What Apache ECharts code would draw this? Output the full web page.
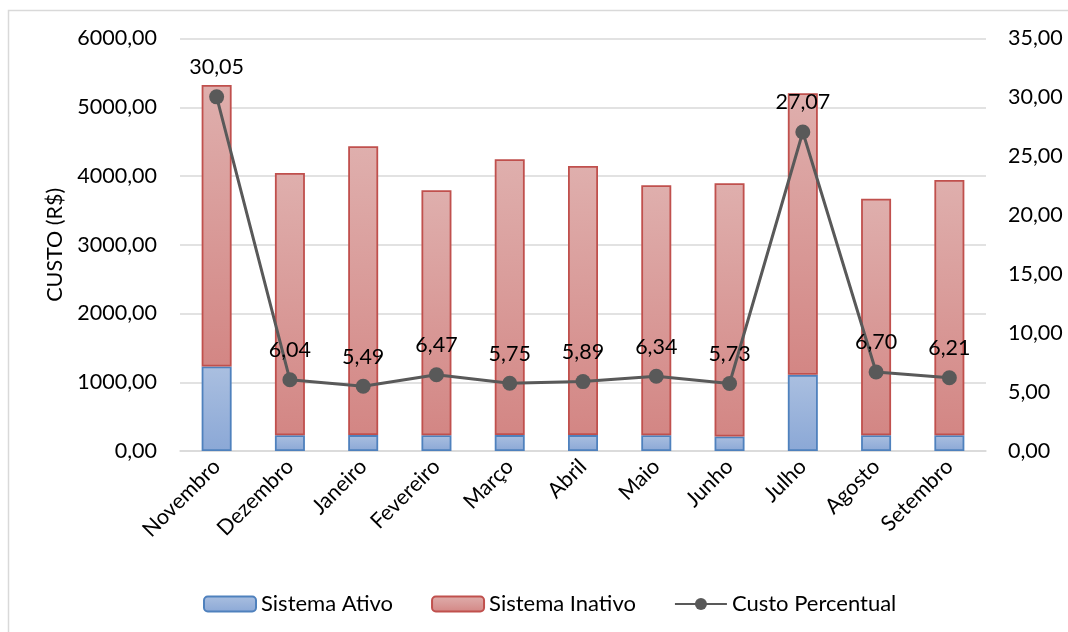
<!DOCTYPE html>
<html>
<head>
<meta charset="utf-8">
<script src="https://cdn.jsdelivr.net/npm/echarts@6/dist/echarts.min.js"></script>
<style>
  html, body { margin: 0; padding: 0; background: #ffffff; }
  #chart { width: 1068px; height: 632px; }
</style>
</head>
<body>
<div id="chart"></div>
<script>
// Monthly cost, split by system state, with the percentage cost line
const months = ['Novembro', 'Dezembro', 'Janeiro', 'Fevereiro', 'Março', 'Abril',
                'Maio', 'Junho', 'Julho', 'Agosto', 'Setembro'];
const sistemaAtivo   = [1230, 230, 231, 230, 231, 231, 230, 211, 1108, 230, 230];
const sistemaInativo = [4094, 3814, 4201, 3562, 4012, 3914, 3635, 3683, 4095, 3440, 3712];
const custoPercentual = [30.05, 6.04, 5.49, 6.47, 5.75, 5.89, 6.34, 5.73, 27.07, 6.70, 6.21];
const custoTicks = [0, 1000, 2000, 3000, 4000, 5000, 6000];
const percentTicks = [0, 5, 10, 15, 20, 25, 30, 35];

const FONT = 'Lato, "Open Sans", sans-serif';
const FS = 21.5;
const fmt = v => v.toFixed(2).replace('.', ',');

const grad = (top, bottom) => new echarts.graphic.LinearGradient(0, 0, 0, 1, [
  { offset: 0, color: top }, { offset: 1, color: bottom }
]);

const chart = echarts.init(document.getElementById('chart'), null, { renderer: 'canvas' });

chart.setOption({
  backgroundColor: '#ffffff',
  animation: false,
  textStyle: { fontFamily: FONT },
  graphic: [{
    type: 'rect',
    shape: { x: 8.5, y: 10.5, width: 1100, height: 700 },
    style: { fill: 'none', stroke: '#d9d9d9', lineWidth: 1.5 },
    silent: true
  }],
  grid: { left: 180, right: 82, top: 38.5, bottom: 181 },
  legend: {
    left: 198, top: 588,
    itemWidth: 52, itemHeight: 15, itemGap: 38,
    textStyle: { fontFamily: FONT, fontSize: 22, color: '#000000' },
    data: ['Sistema Ativo', 'Sistema Inativo', 'Custo Percentual']
  },
  xAxis: {
    type: 'category',
    data: months,
    axisLine: { lineStyle: { color: '#d9d9d9', width: 1.5 } },
    axisTick: { show: false },
    axisLabel: { rotate: 45, fontFamily: FONT, fontSize: FS, color: '#000000', margin: 12, interval: 0 }
  },
  yAxis: [{
    type: 'value',
    min: custoTicks[0], max: custoTicks[custoTicks.length - 1], interval: 1000,
    name: 'CUSTO (R$)', nameLocation: 'middle', nameGap: 110,
    nameTextStyle: { fontFamily: FONT, fontSize: FS, color: '#000000' },
    axisLine: { show: false }, axisTick: { show: false },
    splitLine: { lineStyle: { color: '#d9d9d9', width: 1.5 } },
    axisLabel: { formatter: fmt, fontFamily: FONT, fontSize: FS, color: '#000000', margin: 23 }
  }, {
    type: 'value',
    min: percentTicks[0], max: percentTicks[percentTicks.length - 1], interval: 5,
    position: 'right',
    axisLine: { show: false }, axisTick: { show: false },
    splitLine: { show: false },
    axisLabel: { formatter: fmt, fontFamily: FONT, fontSize: FS, color: '#000000', margin: 22 }
  }],
  series: [{
    name: 'Sistema Ativo',
    type: 'bar', stack: 'custo', barWidth: 30,
    data: sistemaAtivo,
    itemStyle: { color: grad('#aabfe0', '#8ba8d6'), borderColor: '#4f81bd', borderWidth: 1.8 }
  }, {
    name: 'Sistema Inativo',
    type: 'bar', stack: 'custo', barWidth: 30,
    data: sistemaInativo,
    itemStyle: { color: grad('#dfafad', '#d38684'), borderColor: '#c0504d', borderWidth: 1.8 }
  }, {
    name: 'Custo Percentual',
    type: 'line', yAxisIndex: 1,
    data: custoPercentual,
    symbol: 'circle', symbolSize: 15,
    lineStyle: { color: '#595959', width: 3 },
    itemStyle: { color: '#595959' },
    label: {
      show: true, position: 'top', distance: 11,
      formatter: p => fmt(p.value),
      fontFamily: FONT, fontSize: FS, color: '#000000'
    },
    z: 5
  }]
});
</script>
</body>
</html>
